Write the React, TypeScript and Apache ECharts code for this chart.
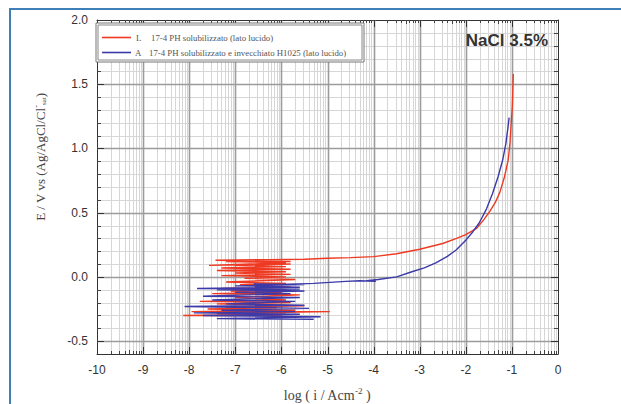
import React, { useEffect, useRef } from "react";
import * as echarts from "echarts";

// ---- data ----
const X_MIN = -10;
const X_MAX = 0;
const Y_MIN = -0.6;
const Y_MAX = 2.0;
const X_TICKS = [-10, -9, -8, -7, -6, -5, -4, -3, -2, -1, 0];
const Y_TICK_LABELS = ["-0.5", "0.0", "0.5", "1.0", "1.5", "2.0"];

const L_NAME = "17-4 PH solubilizzato (lato lucido)";
const A_NAME = "17-4 PH solubilizzato e invecchiato H1025 (lato lucido)";

// L (red): noisy cathodic zone then passive/anodic branch
const L_X = [
  -6.0, -8.13, -5.9, -7.4, -4.95, -7.95, -5.7, -7.6, -6.1, -7.2, -5.5, -7.4, -5.8, -7.77, -5.9, -7.0,
  -5.6, -7.5, -6.0, -7.1, -5.9, -7.3, -5.8, -6.9, -5.9, -7.2, -5.7, -6.8, -5.9, -7.3, -5.8, -7.0,
  -5.9, -7.4, -5.8, -7.3, -5.9, -7.0, -5.8, -7.57, -5.9, -7.2, -5.8, -7.43, -6.3,
  -5.5, -5.0, -4.5, -4.0, -3.5, -3.0, -2.5, -2.2, -2.0, -1.85, -1.76, -1.6, -1.48, -1.36, -1.26,
  -1.16, -1.08, -1.04, -1.02, -0.99, -0.98, -0.97,
];
const L_Y = [
  -0.3, -0.3, -0.29, -0.285, -0.27, -0.27, -0.26, -0.25, -0.24, -0.235, -0.225, -0.21, -0.2, -0.19, -0.18, -0.16,
  -0.14, -0.13, -0.12, -0.11, -0.1, -0.09, -0.08, -0.06, -0.05, -0.04, -0.02, -0.01, 0.0, 0.01, 0.02, 0.03,
  0.04, 0.05, 0.06, 0.07, 0.08, 0.09, 0.1, 0.09, 0.11, 0.12, 0.12, 0.13, 0.135,
  0.137, 0.145, 0.15, 0.158, 0.18, 0.215, 0.26, 0.3, 0.33, 0.36, 0.38, 0.45, 0.51, 0.58, 0.66,
  0.78, 0.91, 1.05, 1.17, 1.33, 1.45, 1.58,
];

// A (blue)
const A_X = [
  -5.3, -7.4, -5.15, -7.7, -5.6, -7.9, -5.7, -7.3, -5.4, -8.1, -5.5, -7.2, -5.7, -7.5, -5.6, -7.7,
  -5.8, -7.0, -5.5, -7.4, -5.6, -7.83, -5.6, -7.0, -5.5, -6.6, -6.0,
  -5.3, -4.6, -4.3, -3.95, -4.15, -3.9, -3.5, -3.17, -2.9, -2.65, -2.4, -2.21, -1.99, -1.85, -1.71,
  -1.55, -1.42, -1.3, -1.2, -1.13, -1.09, -1.06,
];
const A_Y = [
  -0.33, -0.325, -0.31, -0.3, -0.29, -0.28, -0.27, -0.26, -0.245, -0.23, -0.22, -0.21, -0.19, -0.18, -0.16, -0.15,
  -0.13, -0.12, -0.11, -0.1, -0.095, -0.09, -0.08, -0.07, -0.06, -0.055, -0.06,
  -0.05, -0.035, -0.03, -0.035, -0.03, -0.02, 0.0, 0.04, 0.07, 0.11, 0.16, 0.21, 0.29, 0.35, 0.42,
  0.53, 0.65, 0.78, 0.91, 1.04, 1.15, 1.24,
];

const MINOR_LOG = [2, 3, 4, 5, 6, 7, 8, 9];
const Y_MINOR_STEP = 0.1;
const Y_MAJOR_STEP = 0.5;

const RED = "#ee3a22";
const BLUE = "#3b3aa8";

function pairs(xs: number[], ys: number[]) {
  return xs.map((x, i) => [x, ys[i]]);
}

export default function App() {
  const ref = useRef<HTMLDivElement>(null);
  useEffect(() => {
    if (!ref.current) return;
    const chart = echarts.init(ref.current, null, { renderer: "svg" });

    const renderGrid = (params: any, api: any) => {
      if (params.dataIndex !== 0) return null;
      const children: any[] = [];
      const bl = api.coord([X_MIN, Y_MIN]);
      const tr = api.coord([X_MAX, Y_MAX]);
      const yb = bl[1];
      const yt = tr[1];
      const xl = bl[0];
      const xr = tr[0];
      const line = (x1: number, y1: number, x2: number, y2: number, stroke: string, w: number) =>
        children.push({ type: "line", shape: { x1, y1, x2, y2 }, style: { stroke, lineWidth: w } });
      // vertical minor lines
      for (let n = X_MIN; n < X_MAX; n++) {
        for (const k of MINOR_LOG) {
          const x = Math.round(api.coord([n + Math.log10(k), 0])[0]) + 0.5;
          line(x, yb, x, yt, "#d6d6d6", 1);
          const len = k === 5 ? 4 : 3;
          line(x, yb, x, yb - len, "#444", 1);
          line(x, yt, x, yt + len, "#444", 1);
        }
      }
      // horizontal minor/major lines
      const nY = Math.round((Y_MAX - Y_MIN) / Y_MINOR_STEP);
      const majors: number[] = [];
      for (let i = 1; i < nY; i++) {
        const v = Y_MIN + i * Y_MINOR_STEP;
        const y = Math.round(api.coord([0, v])[1]) + 0.5;
        const major = Math.abs(v / Y_MAJOR_STEP - Math.round(v / Y_MAJOR_STEP)) < 1e-6;
        if (major) {
          majors.push(y);
        } else {
          line(xl, y, xr, y, "#d6d6d6", 1);
          line(xl, y, xl + 4, y, "#444", 1);
          line(xr, y, xr - 4, y, "#444", 1);
        }
      }
      for (const y of majors) {
        line(xl, y, xr, y, "#9c9c9c", 1.6);
        line(xl, y, xl + 7, y, "#333", 1);
        line(xr, y, xr - 7, y, "#333", 1);
      }
      for (let n = X_MIN + 1; n < X_MAX; n++) {
        const x = Math.round(api.coord([n, 0])[0]) + 0.5;
        line(x, yb, x, yt, "#9c9c9c", 1.6);
        line(x, yb, x, yb - 7, "#333", 1);
        line(x, yt, x, yt + 7, "#333", 1);
      }
      return { type: "group", children };
    };

    const option: any = {
      animation: false,
      backgroundColor: "#ffffff",
      grid: { left: 97, right: 63, top: 20, bottom: 50, containLabel: false },
      xAxis: [
        {
          type: "value",
          position: "bottom",
          min: X_MIN,
          max: X_MAX,
          interval: 1,
          axisLine: { show: true, onZero: false, lineStyle: { color: "#333", width: 1 } },
          axisTick: { show: false },
          splitLine: { show: false },
          axisLabel: {
            margin: 10,
            color: "#333",
            fontSize: 12,
            fontFamily: "Liberation Sans, Arial, sans-serif",
            formatter: (v: number) => (X_TICKS.includes(Math.round(v)) ? String(Math.round(v)) : ""),
          },
        },
        {
          type: "value",
          position: "top",
          min: X_MIN,
          max: X_MAX,
          interval: 1,
          axisLine: { show: true, onZero: false, lineStyle: { color: "#333", width: 1 } },
          axisTick: { show: false },
          splitLine: { show: false },
          axisLabel: { show: false },
        },
      ],
      yAxis: [
        {
          type: "value",
          position: "left",
          min: Y_MIN,
          max: Y_MAX,
          interval: Y_MINOR_STEP,
          axisLine: { show: true, onZero: false, lineStyle: { color: "#333", width: 1 } },
          axisTick: { show: false },
          splitLine: { show: false },
          axisLabel: {
            margin: 9,
            color: "#333",
            fontSize: 12,
            fontFamily: "Liberation Sans, Arial, sans-serif",
            formatter: (v: number) => {
              const r = Math.round(v / Y_MAJOR_STEP);
              if (Math.abs(v / Y_MAJOR_STEP - r) > 1e-6) return "";
              const s = (r * Y_MAJOR_STEP).toFixed(1);
              return Y_TICK_LABELS.includes(s) ? s : s === "-0.0" ? "0.0" : "";
            },
          },
        },
        {
          type: "value",
          position: "right",
          min: Y_MIN,
          max: Y_MAX,
          interval: Y_MINOR_STEP,
          axisLine: { show: true, onZero: false, lineStyle: { color: "#333", width: 1 } },
          axisTick: { show: false },
          splitLine: { show: false },
          axisLabel: { show: false },
        },
      ],
      series: [
        {
          type: "custom",
          coordinateSystem: "cartesian2d",
          xAxisIndex: 0,
          yAxisIndex: 0,
          silent: true,
          z: 1,
          data: [[X_MIN, Y_MIN]],
          renderItem: renderGrid,
        },
        {
          name: L_NAME,
          type: "line",
          data: pairs(L_X, L_Y),
          showSymbol: false,
          symbol: "none",
          z: 3,
          lineStyle: { color: RED, width: 1.4 },
          itemStyle: { color: RED },
        },
        {
          name: A_NAME,
          type: "line",
          data: pairs(A_X, A_Y),
          showSymbol: false,
          symbol: "none",
          z: 4,
          lineStyle: { color: BLUE, width: 1.4 },
          itemStyle: { color: BLUE },
        },
      ],
      graphic: [
        {
          type: "rect",
          shape: { x: 10, y: 9, width: 700, height: 500 },
          style: { fill: "none", stroke: "#3f7fb8", lineWidth: 2 },
          z: 10,
        },
        // legend box (double border)
        {
          type: "rect",
          shape: { x: 96, y: 23, width: 268, height: 39 },
          style: { fill: "#ffffff", stroke: "#777", lineWidth: 1 },
          z: 20,
        },
        {
          type: "rect",
          shape: { x: 98, y: 25, width: 264, height: 35 },
          style: { fill: "none", stroke: "#888", lineWidth: 1 },
          z: 21,
        },
        { type: "line", shape: { x1: 102, y1: 37.5, x2: 131, y2: 37.5 }, style: { stroke: RED, lineWidth: 1.6 }, z: 22 },
        { type: "line", shape: { x1: 102, y1: 52.5, x2: 131, y2: 52.5 }, style: { stroke: BLUE, lineWidth: 1.6 }, z: 22 },
        {
          type: "text",
          x: 136,
          y: 38,
          z: 22,
          style: { text: "L", font: "8.8px Liberation Serif, serif", fill: "#555", verticalAlign: "middle" },
        },
        {
          type: "text",
          x: 151,
          y: 38,
          z: 22,
          style: { text: L_NAME, font: "8.8px Liberation Serif, serif", fill: "#555", verticalAlign: "middle" },
        },
        {
          type: "text",
          x: 135,
          y: 53,
          z: 22,
          style: { text: "A", font: "8.8px Liberation Serif, serif", fill: "#555", verticalAlign: "middle" },
        },
        {
          type: "text",
          x: 149,
          y: 53,
          z: 22,
          style: { text: A_NAME, font: "8.8px Liberation Serif, serif", fill: "#555", verticalAlign: "middle" },
        },
        {
          type: "text",
          x: 548,
          y: 40,
          z: 22,
          style: {
            text: "NaCl 3.5%",
            font: "bold 17px Liberation Sans, Arial, sans-serif",
            fill: "#333",
            align: "right",
            verticalAlign: "middle",
          },
        },
        {
          type: "text",
          x: 327,
          y: 395,
          z: 22,
          style: {
            text: "log ( i / Acm{sup|-2} )",
            font: "14px Liberation Serif, serif",
            fill: "#444",
            align: "center",
            verticalAlign: "middle",
            rich: { sup: { font: "9px Liberation Serif, serif", fill: "#444", verticalAlign: "top", padding: [0, 0, 8, 0] } },
          },
        },
        {
          type: "text",
          x: 40,
          y: 157,
          rotation: Math.PI / 2,
          z: 22,
          style: {
            text: "E / V vs (Ag/AgCl/Cl{sup|-}{sub|sat})",
            font: "13px Liberation Serif, serif",
            fill: "#444",
            align: "center",
            verticalAlign: "middle",
            rich: {
              sup: { font: "8px Liberation Serif, serif", fill: "#444", padding: [0, 0, 8, 0] },
              sub: { font: "7px Liberation Serif, serif", fill: "#444", padding: [8, 0, 0, 0] },
            },
          },
        },
      ],
    };
    chart.setOption(option);
    return () => chart.dispose();
  }, []);
  return (
    <div
      ref={ref}
      style={{ position: "fixed", left: 0, top: 0, width: 621, height: 404, background: "#fff" }}
    />
  );
}
